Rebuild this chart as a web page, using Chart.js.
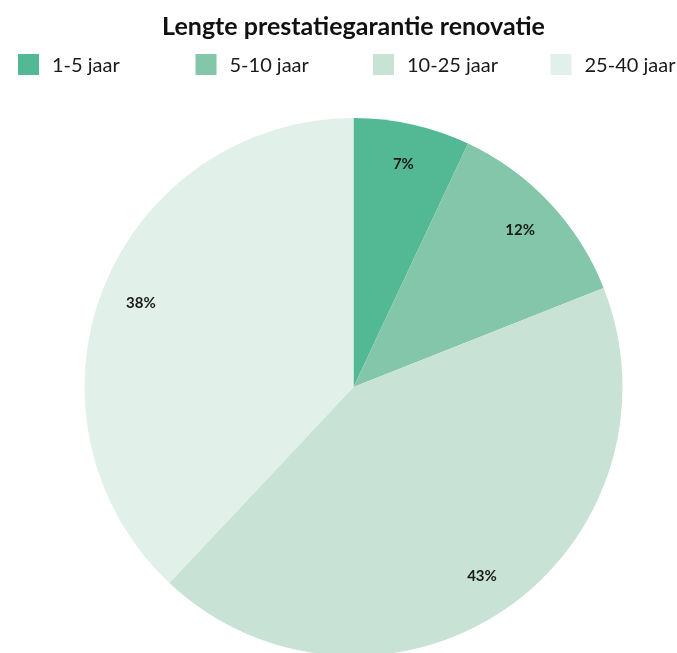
<!DOCTYPE html>
<html>
<head>
<meta charset="utf-8">
<script src="https://cdn.jsdelivr.net/npm/chart.js@4.4.1/dist/chart.umd.min.js"></script>
<style>
    html, body {
        margin: 0;
        padding: 0;
        overflow: hidden;
        background: #fff;
    }
</style>
</head>
<body>
<canvas id="guaranteeChart" width="677" height="661"></canvas>
<script>
const categories = ["1-5 jaar", "5-10 jaar", "10-25 jaar", "25-40 jaar"];
const shares = [7, 12, 43, 38];
const colors = ["#52b994", "#83c6a9", "#c8e3d6", "#e2f0ea"];

// legend in fixed columns above the pie
const columnLegend = {
    id: "columnLegend",
    afterDraw(chart) {
        const ctx = chart.ctx;
        const labels = chart.data.labels;
        const bg = chart.data.datasets[0].backgroundColor;
        ctx.save();
        ctx.font = "20px Lato";
        ctx.textBaseline = "alphabetic";
        labels.forEach((label, i) => {
            const x = 18 + i * 177.5;
            ctx.fillStyle = bg[i];
            ctx.fillRect(x, 54, 21, 21);
            ctx.fillStyle = "#1a1a1a";
            ctx.fillText(label, x + 34, 72);
        });
        ctx.restore();
    },
};

// percentage inside each slice
const sliceLabels = {
    id: "sliceLabels",
    afterDatasetsDraw(chart) {
        const ctx = chart.ctx;
        const meta = chart.getDatasetMeta(0);
        const values = chart.data.datasets[0].data;
        ctx.save();
        ctx.font = "bold 15px Lato";
        ctx.fillStyle = "#1a1a1a";
        ctx.textAlign = "center";
        ctx.textBaseline = "middle";
        meta.data.forEach((arc, i) => {
            const mid = (arc.startAngle + arc.endAngle) / 2;
            const r = arc.outerRadius * 0.85;
            ctx.fillText(values[i] + "%", arc.x + Math.cos(mid) * r, arc.y + Math.sin(mid) * r);
        });
        ctx.restore();
    },
};

new Chart(document.getElementById("guaranteeChart"), {
    type: "pie",
    data: {
        labels: categories,
        datasets: [
            {
                data: shares,
                backgroundColor: colors,
                borderWidth: 0,
            },
        ],
    },
    options: {
        responsive: false,
        animation: false,
        layout: {
            padding: { left: 30, right: 0, top: 0, bottom: 5 },
        },
        plugins: {
            title: {
                display: true,
                text: "Lengte prestatiegarantie renovatie",
                color: "#111",
                font: { family: "Lato", size: 25, weight: "bold" },
                padding: { top: 12, bottom: 76 },
            },
            legend: { display: false },
            tooltip: { enabled: false },
        },
    },
    plugins: [columnLegend, sliceLabels],
});
</script>
</body>
</html>
